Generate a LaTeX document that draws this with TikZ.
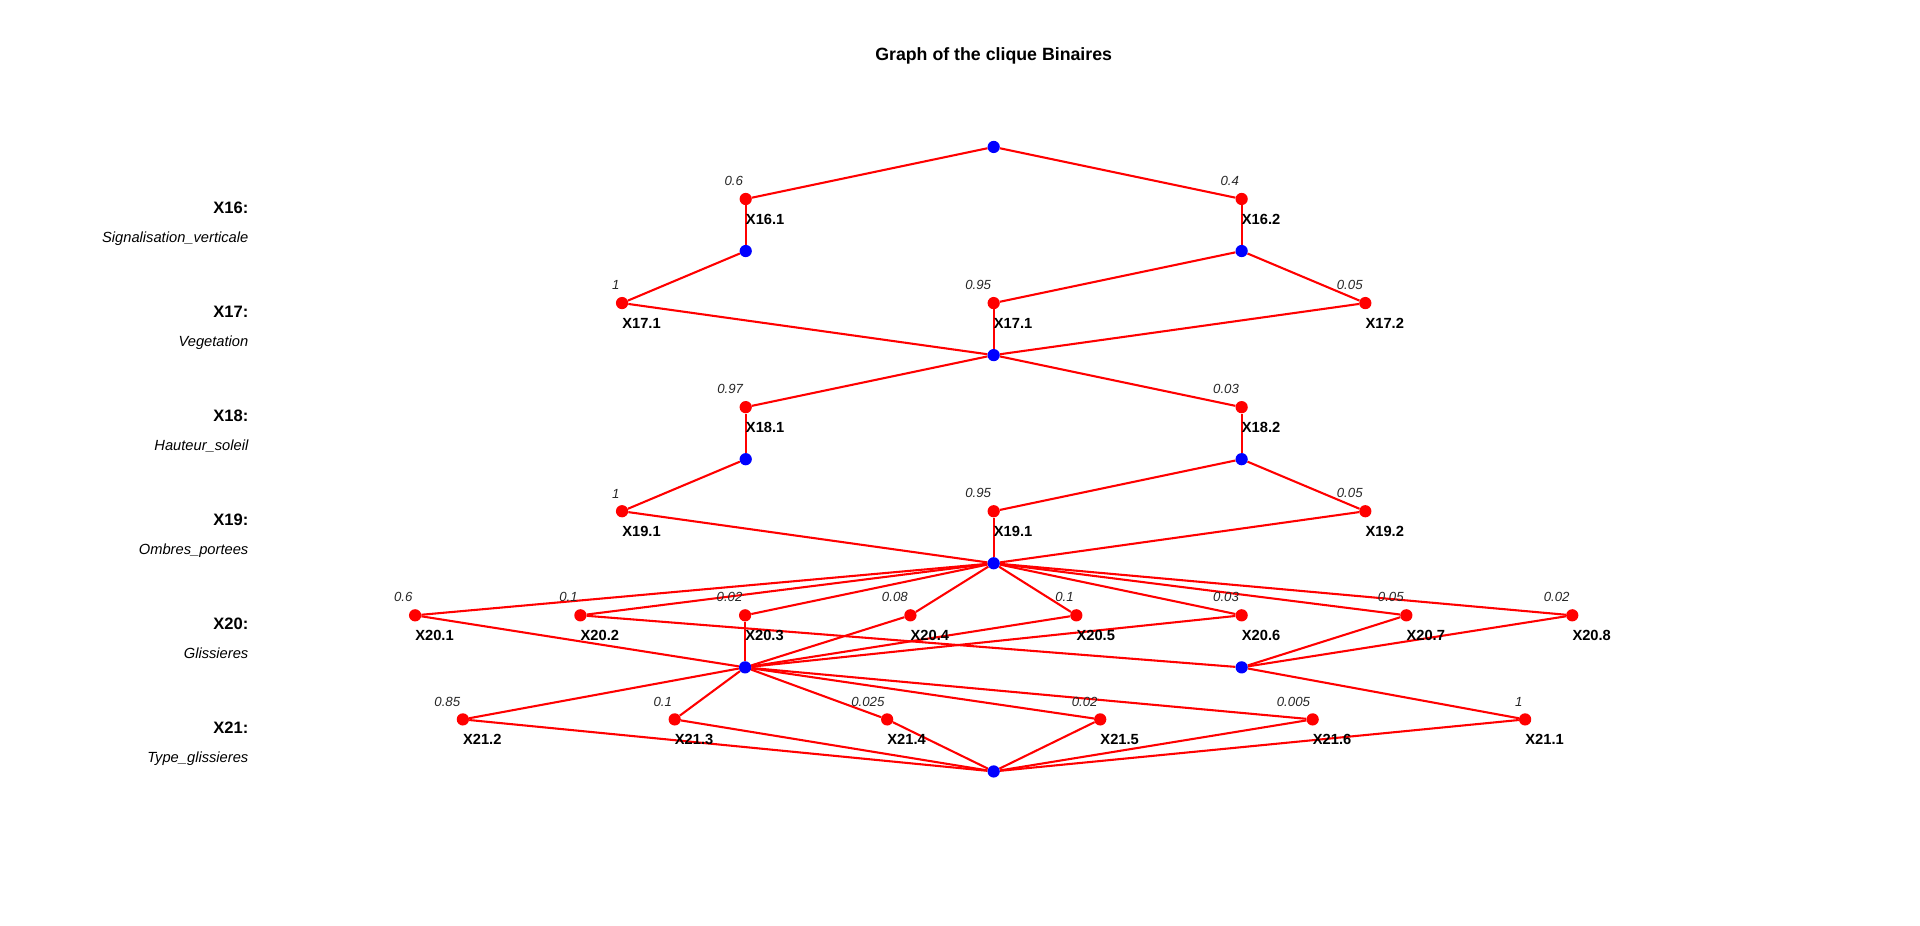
\documentclass[tikz,border=0pt]{standalone}
\usepackage{fontspec}
\setmainfont{Liberation Sans}
\usetikzlibrary{positioning}
\usetikzlibrary{backgrounds}

\begin{document}
\begin{tikzpicture}[x=1pt, y=-1pt,
	rdot/.style={circle, fill=red, inner sep=0pt, minimum size=10pt},
	bdot/.style={circle, fill=blue, inner sep=0pt, minimum size=10pt},
	prob/.style={inner sep=0pt, text=black!85, font=\itshape\fontsize{10.8}{12}\selectfont},
	vlbl/.style={inner sep=0pt, font=\bfseries\fontsize{12}{14}\selectfont},
	varlbl/.style={inner sep=0pt, anchor=base east, font=\bfseries\fontsize{13.5}{16}\selectfont},
	desclbl/.style={inner sep=0pt, anchor=base east, font=\itshape\fontsize{12}{14}\selectfont},
	link/.style={draw=red, line width=1.7pt}]

	\useasboundingbox (0,0) rectangle (1568,756);

	\node (title) [anchor=base, font=\bfseries\fontsize{14.5}{17}\selectfont] at (811.5,49) {Graph of the clique Binaires};

	% variable names on the left
	\node (v16) [varlbl] at (203,174) {X16:};
	\node (d16) [desclbl] at (203,198) {Signalisation\_verticale};
	\node (v17) [varlbl] at (203,259) {X17:};
	\node (d17) [desclbl] at (203,283) {Vegetation};
	\node (v18) [varlbl] at (203,344) {X18:};
	\node (d18) [desclbl] at (203,368) {Hauteur\_soleil};
	\node (v19) [varlbl] at (203,429) {X19:};
	\node (d19) [desclbl] at (203,453) {Ombres\_portees};
	\node (v20) [varlbl] at (203,514) {X20:};
	\node (d20) [desclbl] at (203,538) {Glissieres};
	\node (v21) [varlbl] at (203,599) {X21:};
	\node (d21) [desclbl] at (203,623) {Type\_glissieres};

	% junctions
	\node[bdot] (croot) at (811.5,120) {};
	\node[bdot] (c16a) at (609,205) {};
	\node[bdot] (c16b) at (1014,205) {};
	\node[bdot] (c17) at (811.5,290) {};
	\node[bdot] (c18a) at (609,375) {};
	\node[bdot] (c18b) at (1014,375) {};
	\node[bdot] (c19) at (811.5,460) {};
	\node[bdot] (c20a) at (608.5,545) {};
	\node[bdot] (c20b) at (1014,545) {};
	\node[bdot] (cbot) at (811.5,630) {};

	% values
	\node[rdot] (x161) at (609,162.5) {};
	\node[rdot] (x162) at (1014,162.5) {};
	\node[rdot] (x171a) at (508,247.5) {};
	\node[rdot] (x171b) at (811.5,247.5) {};
	\node[rdot] (x172) at (1115,247.5) {};
	\node[rdot] (x181) at (609,332.5) {};
	\node[rdot] (x182) at (1014,332.5) {};
	\node[rdot] (x191a) at (508,417.5) {};
	\node[rdot] (x191b) at (811.5,417.5) {};
	\node[rdot] (x192) at (1115,417.5) {};
	\node[rdot] (x201) at (339,502.5) {};
	\node[rdot] (x202) at (474,502.5) {};
	\node[rdot] (x203) at (608.5,502.5) {};
	\node[rdot] (x204) at (743.5,502.5) {};
	\node[rdot] (x205) at (879,502.5) {};
	\node[rdot] (x206) at (1014,502.5) {};
	\node[rdot] (x207) at (1148.5,502.5) {};
	\node[rdot] (x208) at (1284,502.5) {};
	\node[rdot] (x212) at (378,587.5) {};
	\node[rdot] (x213) at (551,587.5) {};
	\node[rdot] (x214) at (724.5,587.5) {};
	\node[rdot] (x215) at (898.5,587.5) {};
	\node[rdot] (x216) at (1072,587.5) {};
	\node[rdot] (x211) at (1245.5,587.5) {};

	% probabilities
	\node (p161) [prob, above left=10.6pt and 2pt of x161.center] {0.6};
	\node (p162) [prob, above left=10.6pt and 2pt of x162.center] {0.4};
	\node (p171a) [prob, above left=10.6pt and 2pt of x171a.center] {1};
	\node (p171b) [prob, above left=10.6pt and 2pt of x171b.center] {0.95};
	\node (p172) [prob, above left=10.6pt and 2pt of x172.center] {0.05};
	\node (p181) [prob, above left=10.6pt and 2pt of x181.center] {0.97};
	\node (p182) [prob, above left=10.6pt and 2pt of x182.center] {0.03};
	\node (p191a) [prob, above left=10.6pt and 2pt of x191a.center] {1};
	\node (p191b) [prob, above left=10.6pt and 2pt of x191b.center] {0.95};
	\node (p192) [prob, above left=10.6pt and 2pt of x192.center] {0.05};
	\node (p201) [prob, above left=10.6pt and 2pt of x201.center] {0.6};
	\node (p202) [prob, above left=10.6pt and 2pt of x202.center] {0.1};
	\node (p203) [prob, above left=10.6pt and 2pt of x203.center] {0.02};
	\node (p204) [prob, above left=10.6pt and 2pt of x204.center] {0.08};
	\node (p205) [prob, above left=10.6pt and 2pt of x205.center] {0.1};
	\node (p206) [prob, above left=10.6pt and 2pt of x206.center] {0.03};
	\node (p207) [prob, above left=10.6pt and 2pt of x207.center] {0.05};
	\node (p208) [prob, above left=10.6pt and 2pt of x208.center] {0.02};
	\node (p212) [prob, above left=10.6pt and 2pt of x212.center] {0.85};
	\node (p213) [prob, above left=10.6pt and 2pt of x213.center] {0.1};
	\node (p214) [prob, above left=10.6pt and 2pt of x214.center] {0.025};
	\node (p215) [prob, above left=10.6pt and 2pt of x215.center] {0.02};
	\node (p216) [prob, above left=10.6pt and 2pt of x216.center] {0.005};
	\node (p211) [prob, above left=10.6pt and 2pt of x211.center] {1};

	% value names
	\node (l161) [vlbl, below right=12pt and 0pt of x161.center] {X16.1};
	\node (l162) [vlbl, below right=12pt and 0pt of x162.center] {X16.2};
	\node (l171a) [vlbl, below right=12pt and 0pt of x171a.center] {X17.1};
	\node (l171b) [vlbl, below right=12pt and 0pt of x171b.center] {X17.1};
	\node (l172) [vlbl, below right=12pt and 0pt of x172.center] {X17.2};
	\node (l181) [vlbl, below right=12pt and 0pt of x181.center] {X18.1};
	\node (l182) [vlbl, below right=12pt and 0pt of x182.center] {X18.2};
	\node (l191a) [vlbl, below right=12pt and 0pt of x191a.center] {X19.1};
	\node (l191b) [vlbl, below right=12pt and 0pt of x191b.center] {X19.1};
	\node (l192) [vlbl, below right=12pt and 0pt of x192.center] {X19.2};
	\node (l201) [vlbl, below right=12pt and 0pt of x201.center] {X20.1};
	\node (l202) [vlbl, below right=12pt and 0pt of x202.center] {X20.2};
	\node (l203) [vlbl, below right=12pt and 0pt of x203.center] {X20.3};
	\node (l204) [vlbl, below right=12pt and 0pt of x204.center] {X20.4};
	\node (l205) [vlbl, below right=12pt and 0pt of x205.center] {X20.5};
	\node (l206) [vlbl, below right=12pt and 0pt of x206.center] {X20.6};
	\node (l207) [vlbl, below right=12pt and 0pt of x207.center] {X20.7};
	\node (l208) [vlbl, below right=12pt and 0pt of x208.center] {X20.8};
	\node (l212) [vlbl, below right=12pt and 0pt of x212.center] {X21.2};
	\node (l213) [vlbl, below right=12pt and 0pt of x213.center] {X21.3};
	\node (l214) [vlbl, below right=12pt and 0pt of x214.center] {X21.4};
	\node (l215) [vlbl, below right=12pt and 0pt of x215.center] {X21.5};
	\node (l216) [vlbl, below right=12pt and 0pt of x216.center] {X21.6};
	\node (l211) [vlbl, below right=12pt and 0pt of x211.center] {X21.1};

	\begin{scope}[on background layer]
	\path [link] (croot) -- (x161);
	\path [link] (croot) -- (x162);
	\path [link] (x161) -- (c16a);
	\path [link] (x162) -- (c16b);
	\path [link] (c16a) -- (x171a);
	\path [link] (c16b) -- (x171b);
	\path [link] (c16b) -- (x172);
	\path [link] (x171a) -- (c17);
	\path [link] (x171b) -- (c17);
	\path [link] (x172) -- (c17);
	\path [link] (c17) -- (x181);
	\path [link] (c17) -- (x182);
	\path [link] (x181) -- (c18a);
	\path [link] (x182) -- (c18b);
	\path [link] (c18a) -- (x191a);
	\path [link] (c18b) -- (x191b);
	\path [link] (c18b) -- (x192);
	\path [link] (x191a) -- (c19);
	\path [link] (x191b) -- (c19);
	\path [link] (x192) -- (c19);
	\path [link] (c19) -- (x201);
	\path [link] (c19) -- (x202);
	\path [link] (c19) -- (x203);
	\path [link] (c19) -- (x204);
	\path [link] (c19) -- (x205);
	\path [link] (c19) -- (x206);
	\path [link] (c19) -- (x207);
	\path [link] (c19) -- (x208);
	\path [link] (x201) -- (c20a);
	\path [link] (x202) -- (c20b);
	\path [link] (x203) -- (c20a);
	\path [link] (x204) -- (c20a);
	\path [link] (x205) -- (c20a);
	\path [link] (x206) -- (c20a);
	\path [link] (x207) -- (c20b);
	\path [link] (x208) -- (c20b);
	\path [link] (c20a) -- (x212);
	\path [link] (c20a) -- (x213);
	\path [link] (c20a) -- (x214);
	\path [link] (c20a) -- (x215);
	\path [link] (c20a) -- (x216);
	\path [link] (c20b) -- (x211);
	\path [link] (x212) -- (cbot);
	\path [link] (x213) -- (cbot);
	\path [link] (x214) -- (cbot);
	\path [link] (x215) -- (cbot);
	\path [link] (x216) -- (cbot);
	\path [link] (x211) -- (cbot);
	\end{scope}
\end{tikzpicture}
\end{document}
